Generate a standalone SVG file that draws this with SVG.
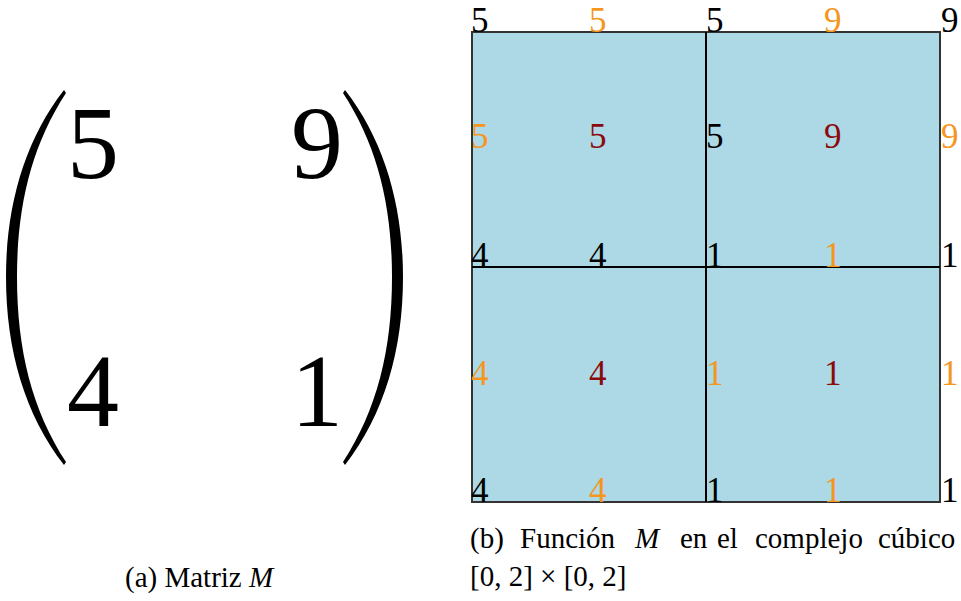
<svg xmlns="http://www.w3.org/2000/svg" width="961" height="601" viewBox="0 0 961 601">
<style>
.t{font-family:"Liberation Serif","DejaVu Serif",serif;}
.g{font-size:35px;}
.k{fill:#000;}
.o{fill:#f5961e;}
.r{fill:#8b0a0a;}
.m{font-size:104px;text-anchor:middle;}
.c{font-size:29px;}
.ln{stroke:#000;stroke-width:2;fill:none;}
</style>
<rect width="961" height="601" fill="#fff"/>
<g id="matrix">
<path d="M64,90 C25,140 6,205 6,277 C6,350 25,415 64,465 L66,462 C32,410 17,350 17,277 C17,205 32,145 66,93 Z" fill="#000"/>
<path d="M345,90 C384,140 403,205 403,277 C403,350 384,415 345,465 L343,462 C377,410 392,350 392,277 C392,205 377,145 343,93 Z" fill="#000"/>
<text class="t m" x="93" y="178">5</text>
<text class="t m" x="317" y="178">9</text>
<text class="t m" x="93" y="426">4</text>
<text class="t m" x="317" y="426">1</text>
</g>
<g id="complex">
<rect x="472" y="32" width="468" height="470" fill="#add8e6" stroke="#333" stroke-width="2"/>
<g id="connectors">
<line class="ln" x1="706" y1="32" x2="706" y2="502"/>
<line class="ln" x1="472" y1="267" x2="940" y2="267"/>
</g>
<g id="labels" class="t g">
<text class="k" x="471" y="32">5</text>
<text class="o" x="589" y="32">5</text>
<text class="k" x="706" y="32">5</text>
<text class="o" x="824" y="32">9</text>
<text class="k" x="941" y="32">9</text>
<text class="o" x="471" y="148">5</text>
<text class="r" x="589" y="148">5</text>
<text class="k" x="706" y="148">5</text>
<text class="r" x="824" y="148">9</text>
<text class="o" x="941" y="148">9</text>
<text class="k" x="471" y="267">4</text>
<text class="k" x="589" y="267">4</text>
<text class="k" x="706" y="267">1</text>
<text class="o" x="824" y="267">1</text>
<text class="k" x="941" y="267">1</text>
<text class="o" x="471" y="385">4</text>
<text class="r" x="589" y="385">4</text>
<text class="o" x="706" y="385">1</text>
<text class="r" x="824" y="385">1</text>
<text class="o" x="941" y="385">1</text>
<text class="k" x="471" y="502">4</text>
<text class="o" x="589" y="502">4</text>
<text class="k" x="706" y="502">1</text>
<text class="o" x="824" y="502">1</text>
<text class="k" x="941" y="502">1</text>
</g>
</g>
<g id="captions" class="t c">
<text x="125" y="587">(a) Matriz <tspan font-style="italic">M</tspan></text>
<text y="548"><tspan x="470">(b)</tspan><tspan x="520">Función</tspan><tspan x="635" font-style="italic">M</tspan><tspan x="680">en</tspan><tspan x="717">el</tspan><tspan x="755">complejo</tspan><tspan x="878">cúbico</tspan></text>
<text x="470" y="586">[0, 2] × [0, 2]</text>
</g>
</svg>
